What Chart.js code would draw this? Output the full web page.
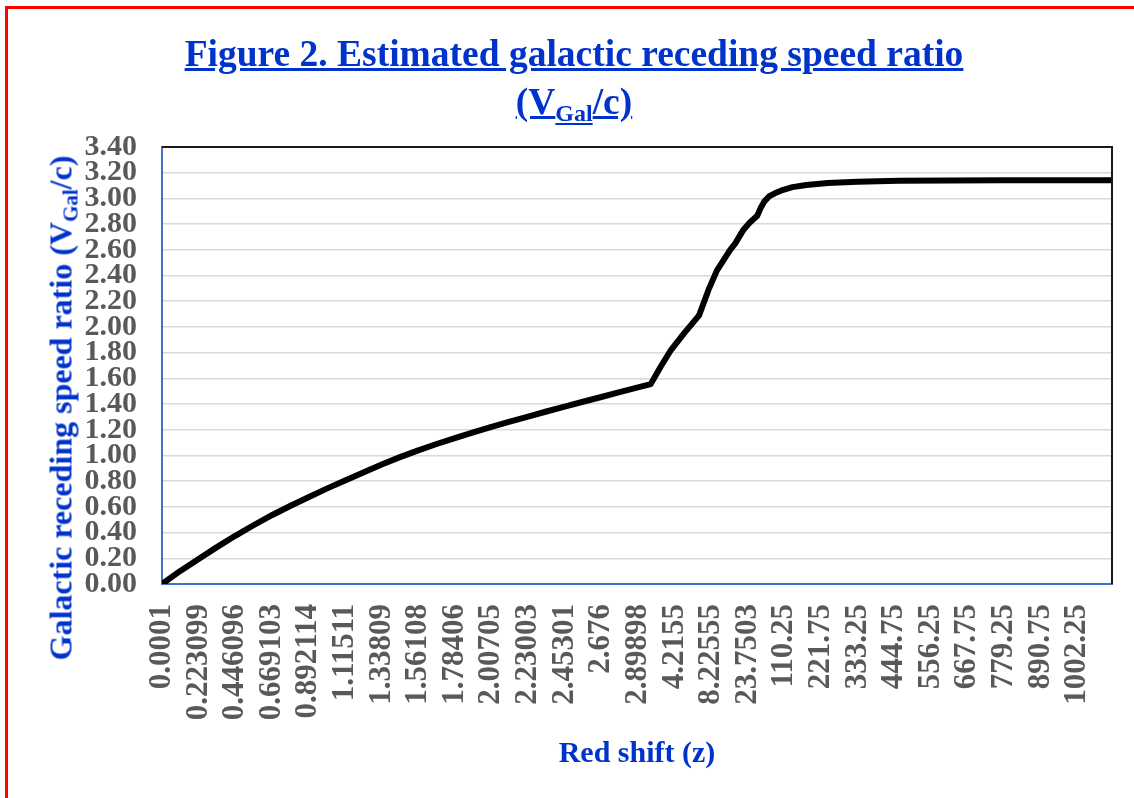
<!DOCTYPE html>
<html>
<head>
<meta charset="utf-8">
<title>Figure 2</title>
<script src="https://cdn.jsdelivr.net/npm/chart.js@4.4.1/dist/chart.umd.min.js"></script>
<style>
  html, body {
    margin: 0;
    padding: 0;
    background: #fff;
    overflow: hidden;
  }
  body {
    width: 1134px;
    height: 798px;
    position: relative;
    font-family: "Liberation Serif", "Times New Roman", serif;
  }
  #frame {
    position: absolute;
    left: 5px;
    top: 6px;
    width: 2000px;
    height: 2000px;
    border: 3px solid #ff0000;
  }
  #wrap {
    position: absolute;
    left: 0;
    top: 0;
    width: 1134px;
    height: 798px;
  }
  .title {
    position: absolute;
    left: 0;
    width: 1148px;
    text-align: center;
    font-weight: bold;
    font-size: 37.5px;
    line-height: 44px;
    color: #0033cc;
    white-space: nowrap;
    z-index: 2;
  }
  .title span { text-decoration: underline; }
  .title sub {
    font-size: 24px;
    vertical-align: -7px;
    line-height: 0;
    text-decoration: underline;
  }
  #ytitle {
    position: absolute;
    left: 61px;
    top: 408px;
    transform: translate(-50%, -50%) rotate(-90deg);
    font-weight: bold;
    font-size: 32px;
    color: #0033cc;
    white-space: nowrap;
    z-index: 2;
  }
  #ytitle sub {
    font-size: 21px;
    vertical-align: -6px;
    line-height: 0;
  }
</style>
</head>
<body>
<div id="frame"></div>
<div class="title" style="top:32px;"><span>Figure 2. Estimated galactic receding speed ratio</span></div>
<div class="title" style="top:80px;"><span>(V</span><sub>Gal</sub><span>/c)</span></div>
<div id="ytitle">Galactic receding speed ratio (V<sub>Gal</sub>/c)</div>
<div id="wrap"><canvas id="chart"></canvas></div>

<script>
// red shift values printed under the x axis (one every label step)
const zTickLabels = [
  "0.0001", "0.223099", "0.446096", "0.669103", "0.892114", "1.11511",
  "1.33809", "1.56108", "1.78406", "2.00705", "2.23003", "2.45301",
  "2.676", "2.89898", "4.2155", "8.22555", "23.7503", "110.25",
  "221.75", "333.25", "444.75", "556.25", "667.75", "779.25",
  "890.75", "1002.25",
];

// position along the category axis, in label steps (0 = first label)
const curvePos = [
  0, 0.5, 1, 1.5, 2, 2.5, 3, 3.5, 4, 4.5, 5, 5.5, 6, 6.5, 7, 7.5, 8, 8.5,
  9, 9.5, 10, 10.5, 11, 11.5, 12, 12.5, 13, 13.35,
  13.62, 13.89, 14.26, 14.67,
  14.93, 15.16, 15.52, 15.66, 15.88, 16.05, 16.26,
  16.36, 16.45, 16.58, 16.74, 16.95, 17.22, 17.6, 18.19, 19, 20.13,
  21.5, 23, 25.95,
];

// galactic receding speed ratio VGal/c
const speedRatio = [
  0, 0.102, 0.195, 0.287, 0.375, 0.457, 0.535, 0.607, 0.675, 0.742,
  0.805, 0.868, 0.93, 0.987, 1.04, 1.089, 1.135, 1.179, 1.222, 1.263,
  1.303, 1.342, 1.38, 1.418, 1.455, 1.493, 1.53, 1.555,
  1.69, 1.815, 1.95, 2.09,
  2.29, 2.44, 2.6, 2.65, 2.755, 2.81, 2.865,
  2.93, 2.975, 3.015, 3.04, 3.065, 3.088, 3.105, 3.12, 3.13, 3.137,
  3.14, 3.1415, 3.1416,
];

const serif = "'Liberation Serif', 'Times New Roman', serif";
const axisBlue = "#4472c4";

/* top and right edges of the plot area */
const plotFrame = {
  id: "plotFrame",
  afterDraw(chart) {
    const { ctx, chartArea: a } = chart;
    ctx.save();
    ctx.strokeStyle = "#1a1a1a";
    ctx.lineWidth = 2;
    ctx.beginPath();
    ctx.moveTo(a.left, a.top);
    ctx.lineTo(a.right, a.top);
    ctx.lineTo(a.right, a.bottom);
    ctx.stroke();
    ctx.restore();
  },
};

const chart = new Chart(document.getElementById("chart"), {
  type: "line",
  data: {
    datasets: [
      {
        data: curvePos.map((x, i) => ({ x, y: speedRatio[i] })),
        borderColor: "#000",
        borderWidth: 6,
        pointRadius: 0,
        tension: 0,
        borderJoinStyle: "round",
        fill: false,
      },
    ],
  },
  options: {
    responsive: true,
    maintainAspectRatio: false,
    animation: false,
    layout: { padding: { top: 147, right: 22, left: 0, bottom: 0 } },
    plugins: {
      legend: { display: false },
      tooltip: { enabled: false },
    },
    scales: {
      x: {
        type: "linear",
        min: 0,
        max: 25.95,
        grid: { display: false, drawTicks: false },
        border: { color: axisBlue, width: 2 },
        ticks: {
          stepSize: 1,
          autoSkip: false,
          includeBounds: false,
          minRotation: 90,
          maxRotation: 90,
          padding: 20,
          color: "#595959",
          font: { family: serif, size: 31, weight: "bold" },
          callback: (v) => zTickLabels[v] ?? "",
        },
        title: {
          display: true,
          text: "Red shift (z)",
          color: "#0033cc",
          font: { family: serif, size: 30, weight: "bold" },
          padding: { top: 0, bottom: 26 },
        },
        afterFit(scale) {
          scale.height = 214;
          scale.paddingLeft = 0;
          scale.paddingRight = 0;
        },
      },
      y: {
        min: 0,
        max: 3.4,
        grid: { color: "#d9d9d9", lineWidth: 1.5, drawTicks: false },
        border: { color: axisBlue, width: 2 },
        ticks: {
          stepSize: 0.2,
          autoSkip: false,
          padding: 25,
          color: "#595959",
          font: { family: serif, size: 30, weight: "bold" },
          callback: (v) => v.toFixed(2),
        },
        afterFit(scale) {
          scale.width = 162;
        },
      },
    },
  },
  plugins: [plotFrame],
});
</script>
</body>
</html>
